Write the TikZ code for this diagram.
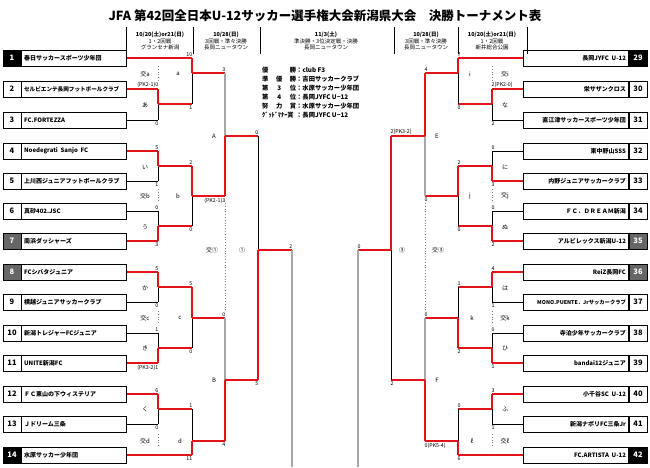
\documentclass[tikz,border=0pt]{standalone}
\usepackage{fontspec}
\setmainfont{Noto Sans CJK JP}
\begin{document}
\begin{tikzpicture}[x=1pt,y=-1pt,
  R/.style={draw={rgb,255:red,225;green,20;blue,25},line width=1.8pt},
  K/.style={draw=black,line width=0.6pt},
  G/.style={draw=gray!70,line width=1.4pt},
  namebox/.style={draw=black,line width=0.6pt,minimum width=105pt,minimum height=16pt,inner sep=2pt,font=\fontsize{6}{7}\selectfont\bfseries},
  numbox/.style={draw=black,line width=0.6pt,minimum width=18pt,minimum height=16pt,inner sep=0pt,font=\fontsize{7.5}{8}\selectfont\bfseries},
  sc/.style={font=\fontsize{5.3}{5.3}\selectfont,inner sep=0.5pt},
  lab/.style={font=\fontsize{6}{6}\selectfont,inner sep=0pt},
  dot/.style={draw=gray,dotted,line width=0.8pt},
  hd/.style={font=\fontsize{5.5}{6.5}\selectfont,align=center,inner sep=0pt}]
\useasboundingbox (0,0) rectangle (650,467);
\fill[white] (0,0) rectangle (650,467);
% title and header
\node[font=\fontsize{12.5}{13}\selectfont\bfseries] (title) at (325,16) {JFA 第42回全日本U-12サッカー選手権大会新潟県大会\quad 決勝トーナメント表};
\foreach \x in {126,193,260,394,458,527} \draw[K] (\x,27) -- (\x,54);
\node[hd] (h1) at (160,41) {\textbf{10/20(土)or21(日)}\\1・2回戦\\グランセナ新潟};
\node[hd] (h2) at (226,41) {\textbf{10/28(日)}\\3回戦・準々決勝\\長岡ニュータウン};
\node[hd] (h3) at (326,41) {\textbf{11/3(土)}\\準決勝・3位決定戦・決勝\\長岡ニュータウン};
\node[hd] (h4) at (426,41) {\textbf{10/28(日)}\\3回戦・準々決勝\\長岡ニュータウン};
\node[hd] (h5) at (492,41) {\textbf{10/20(土)or21(日)}\\1・2回戦\\新井総合公園};
% awards
\foreach \yy/\l/\v [count=\i] in {70/優\hfill 勝/club F3, 79/準\hfill 優\hfill 勝/吉田サッカークラブ, 88/第\hfill 3\hfill 位/水原サッカー少年団, 97/第\hfill 4\hfill 位/長岡JYFC U−12, 106/努\hfill 力\hfill 賞/水原サッカー少年団, 115/ｸﾞｯﾄﾞﾏﾅｰ賞/長岡JYFC U−12}{
  \node[anchor=west,font=\fontsize{6.3}{7}\selectfont\bfseries,inner sep=0pt] (aw\i) at (262,\yy) {\makebox[34pt][s]{\l}：\v};
}
% teams
\foreach \n/\yy/\t/\c in {1/58/春日サッカースポーツ少年団/black,2/89/{\fontsize{5.6}{6}\selectfont セルビエンテ長岡フットボールクラブ}/white,3/120/FC.FORTEZZA/white,4/151/Noedegrati\ \ Sanjo\ \ FC/white,5/181/上川西ジュニアフットボールクラブ/white,6/211/真砂402.JSC/white,7/241/南浜ダッシャーズ/gray!80!black,8/272/FCシバタジュニア/gray!80!black,9/302/横越ジュニアサッカークラブ/white,10/333/新潟トレジャーFCジュニア/white,11/363/UNITE新潟FC/white,12/394/ＦＣ東山の下ウィステリア/white,13/424/Ｊドリーム三条/white,14/455/水原サッカー少年団/black}{
  \node[numbox,fill=\c,text=white] (n\n) at (12,\yy) {\n};
  \node[namebox,anchor=west] (t\n) at (n\n.east) {\makebox[100pt][l]{\t}};
}
\foreach \n in {2,3,4,5,6,9,10,11,12,13} \node[numbox,fill=white,text=black] at (n\n) {\n};
\foreach \n/\yy/\t/\c in {29/58/長岡JYFC\ \ U-12/black,30/89/栄サザンクロス/white,31/120/直江津サッカースポーツ少年団/white,32/151/東中野山SSS/white,33/181/内野ジュニアサッカークラブ/white,34/211/ＦＣ．ＤＲＥＡＭ新潟/white,35/241/アルビレックス新潟U-12/gray!80!black,36/272/ReiZ長岡FC/gray!80!black,37/302/{\fontsize{5.3}{6}\selectfont MONO.PUENTE．Jrサッカークラブ}/white,38/333/寺泊少年サッカークラブ/white,39/363/bandai12ジュニア/white,40/394/小千谷SC\ \ U-12/white,41/424/新潟ナポリFC三条Jr/white,42/455/FC.ARTISTA\ \ U-12/black}{
  \node[numbox,fill=\c,text=white] (n\n) at (638,\yy) {\n};
  \node[namebox,anchor=east] (t\n) at (n\n.west) {\makebox[100pt][r]{\t}};
}
\foreach \n in {30,31,32,33,34,37,38,39,40,41} \node[numbox,fill=white,text=black] at (n\n) {\n};
% match macro
\newcommand\M[7]{%
  \draw[#6] (#1,#2) -- (#1,#4);
  \draw[#7] (#1,#4) -- (#1,#3);
  \draw[R] (#1,#4) -- (#5,#4);}
% team lines
\foreach \n/\s/\xe in {1/R/192,2/R/158,3/K/158,4/R/158,5/K/158,6/K/158,7/R/158,8/R/158,9/K/158,10/K/158,11/R/158,12/R/158,13/K/158,14/R/192}
  \draw[\s] (t\n.east) -- (\xe,0 |- t\n.east);
\foreach \n/\s/\xe in {29/R/458,30/R/492,31/K/492,32/K/492,33/R/492,34/K/492,35/R/492,36/R/492,37/K/492,38/K/492,39/R/492,40/R/492,41/K/492,42/R/458}
  \draw[\s] (t\n.west) -- (\xe,0 |- t\n.west);
% left matches
\M{158}{89}{120}{104}{192}{R}{K}
\M{158}{151}{181}{166}{192}{R}{K}
\M{158}{211}{241}{226}{192}{K}{R}
\M{158}{272}{302}{287}{192}{R}{K}
\M{158}{333}{363}{348}{192}{K}{R}
\M{158}{394}{424}{409}{192}{R}{K}
\M{192}{58}{104}{73}{225}{R}{K}
\M{192}{166}{226}{196}{225}{R}{K}
\M{192}{287}{348}{318}{225}{R}{K}
\M{192}{409}{455}{441}{225}{K}{R}
\M{225}{73}{196}{136}{258}{G}{R}
\M{225}{318}{441}{380}{258}{G}{R}
\M{258}{136}{380}{250}{292}{K}{R}
\draw[G] (292,250) -- (292,467);
% right matches
\M{492}{89}{120}{104}{458}{R}{K}
\M{492}{151}{181}{166}{458}{K}{R}
\M{492}{211}{241}{226}{458}{K}{R}
\M{492}{272}{302}{287}{458}{R}{K}
\M{492}{333}{363}{348}{458}{K}{R}
\M{492}{394}{424}{409}{458}{R}{K}
\M{458}{58}{104}{73}{425}{R}{K}
\M{458}{166}{226}{196}{425}{R}{K}
\M{458}{287}{348}{318}{425}{K}{R}
\M{458}{409}{455}{441}{425}{K}{R}
\M{425}{73}{196}{136}{391}{R}{G}
\M{425}{318}{441}{380}{391}{G}{R}
\M{391}{136}{380}{250}{358}{R}{K}
\draw[G] (358,250) -- (358,467);
% dotted
\foreach \x in {158,492} \foreach \a/\b in {66/82,189/203,311/325,434/448} \draw[dot] (\x,\a) -- (\x,\b);
\draw[dot] (225,203) -- (225,310);
\draw[dot] (425,203) -- (425,310);
% scores left
\foreach \x/\yy/\t in {192/58/10,158/89/(PK2-1)0,225/73/3,158/151/5,192/166/2,158/211/0,258/136/0,292/250/2,158/272/5,192/287/5,158/333/1,225/318/0,158/394/6,192/409/1}
  \node[sc,anchor=south east] at (\x+1,\yy-1) {\t};
\foreach \x/\yy/\t in {192/104/1,158/120/0,158/181/1,158/241/3,192/226/0,225/196/(PK2-1)3,158/302/0,158/363/(PK3-2)1,192/348/0,158/424/0,192/455/11,225/441/4,258/380/5}
  \node[sc,anchor=north east] at (\x+1,\yy+1) {\t};
% scores right
\foreach \x/\yy/\t in {458/58/7,425/73/4,492/89/2(PK2-0),492/151/0,458/166/2,492/211/0,391/136/2(PK3-2),358/250/0,492/272/4,458/287/1,492/333/0,425/318/0,492/394/3,458/409/0}
  \node[sc,anchor=south west] at (\x-1,\yy-1) {\t};
\foreach \x/\yy/\t in {458/104/0,492/120/2,492/181/3,458/226/0,492/241/2,425/196/0,492/302/1,492/363/1,458/348/2,492/424/1,458/455/6,425/441/0(PK5-4),391/380/2}
  \node[sc,anchor=north west] at (\x-1,\yy+1) {\t};
% labels
\foreach \x/\yy/\t in {145/74/交a,178/74/a,145/105/あ,145/167/い,145/196/交b,178/196/b,145/227/う,214/136/A,212/250/交①,242/250/①,145/288/か,145/318/交c,180/318/c,145/348/き,145/409/く,145/441/交d,180/441/d,214/380/B,
  505/74/交i,470/74/i,505/105/な,505/167/に,505/196/交j,470/196/j,505/227/ぬ,437/136/E,438/250/交③,402/250/③,505/288/は,505/318/交k,472/318/k,505/348/ひ,505/409/ふ,505/441/交ℓ,472/441/ℓ,437/380/F}
  \node[lab] at (\x,\yy) {\t};
\end{tikzpicture}
\end{document}
